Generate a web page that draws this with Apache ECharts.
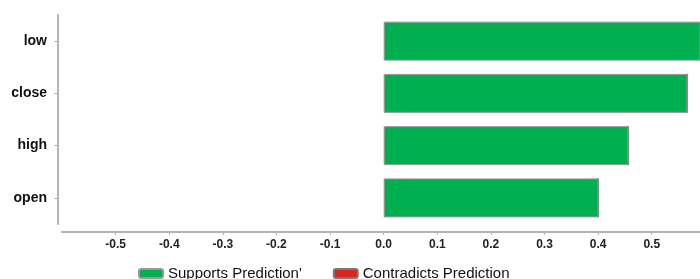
<!DOCTYPE html>
<html>
<head>
<meta charset="utf-8">
<script src="https://cdn.jsdelivr.net/npm/echarts@6/dist/echarts.min.js"></script>
<style>
html, body { margin: 0; padding: 0; background: #fff; }
#main { width: 700px; height: 279px; }
</style>
</head>
<body>
<div id="main"></div>
<script>
// 特征名(从上到下)
var features = ['low', 'close', 'high', 'open'];
// 支持预测的权重
var supports = [0.62, 0.566, 0.456, 0.40];
// 反对预测的权重(图中没有)
var contradicts = [0, 0, 0, 0];

var myChart = echarts.init(document.getElementById('main'));
var option = {
    backgroundColor: '#fff',
    animation: false,
    grid: {
        left: 62,
        right: 0,
        top: 15,
        height: 209
    },
    legend: {
        left: 133,
        top: 261,
        itemWidth: 24,
        itemHeight: 9,
        itemGap: 31,
        icon: 'roundRect',
        textStyle: {
            fontFamily: 'Liberation Sans',
            fontSize: 15,
            color: '#111'
        },
        data: ["Supports Prediction'", 'Contradicts Prediction']
    },
    xAxis: {
        type: 'value',
        min: -0.6,
        max: 0.59,
        interval: 0.1,
        offset: 8,
        splitLine: { show: false },
        axisLine: { show: true, onZero: false, lineStyle: { color: '#b4b4b4', width: 2 } },
        axisTick: { show: true, length: 3, lineStyle: { color: '#b4b4b4' } },
        axisLabel: {
            showMinLabel: false,
            showMaxLabel: false,
            margin: 7,
            fontFamily: 'Liberation Sans',
            fontWeight: 'bold',
            fontSize: 12,
            color: '#222',
            formatter: function (v) { return v.toFixed(1); }
        }
    },
    yAxis: {
        type: 'category',
        data: features,
        inverse: true,
        offset: 4,
        axisLine: { show: true, onZero: false, lineStyle: { color: '#b4b4b4', width: 2 } },
        axisTick: { show: true, length: 4, alignWithLabel: true, lineStyle: { color: '#b4b4b4' } },
        axisLabel: {
            margin: 11,
            fontFamily: 'Liberation Sans',
            fontWeight: 'bold',
            fontSize: 14,
            color: '#111'
        }
    },
    series: [
        {
            name: "Supports Prediction'",
            type: 'bar',
            stack: 'w',
            barWidth: 39,
            data: supports,
            itemStyle: { color: '#00b050', borderColor: '#9a9a9a', borderWidth: 1 }
        },
        {
            name: 'Contradicts Prediction',
            type: 'bar',
            stack: 'w',
            barWidth: 39,
            data: contradicts,
            itemStyle: { color: '#d9261c', borderColor: '#7a7a7a', borderWidth: 1 }
        }
    ]
};
myChart.setOption(option);
</script>
</body>
</html>
